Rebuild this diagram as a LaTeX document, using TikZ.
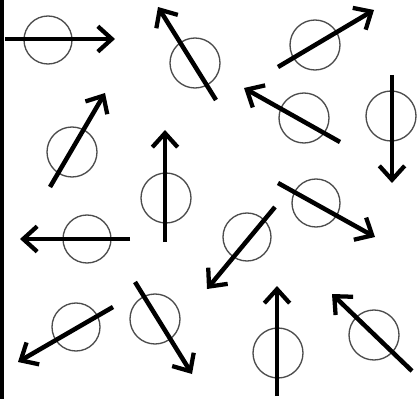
\documentclass[tikz,border=0pt]{standalone}
\usetikzlibrary{arrows.meta}
\begin{document}
\begin{tikzpicture}[x=0.75pt,y=-0.75pt,
  ring/.style={draw=black!70,line width=1pt},
  spin/.style={draw=black,line width=3.4pt,-{Straight Barb[length=10.5pt,width=19pt,line width=3.2pt]}}]
\useasboundingbox (0,0) rectangle (417,399);
\fill[white] (0,0) rectangle (417,399);
\fill[black] (0,0) rectangle (4,399);
% circles
\foreach \cx/\cy/\r [count=\i] in {48/40/24, 195/63/25, 315/45/25, 304/118/25, 391/116/25, 72/152/25, 166/198/25, 87/239/24, 76/327/24, 155/319/25, 247/237/24, 316/203/24, 278/353/25, 374/335/25}
  \node[ring,circle,minimum size=2*\r*0.75pt,inner sep=0pt] (c\i) at (\cx,\cy) {};
% arrows
\foreach \ax/\ay/\bx/\by [count=\i] in {5/39/115/39, 216/100/158/7, 278/67/374/10, 340/142/244/88, 392/75/392/183, 50/187/105/93, 165/242/165/130, 130/239/20/239, 113/307/18/362, 135/282/192/374, 275/207/207/289, 278/183/375/237, 277/396/277/286, 412/371/332/294}
{
  \coordinate (t\i) at (\ax,\ay);
  \coordinate (h\i) at (\bx,\by);
  \draw[spin] (t\i) -- (h\i);
}
\end{tikzpicture}
\end{document}
